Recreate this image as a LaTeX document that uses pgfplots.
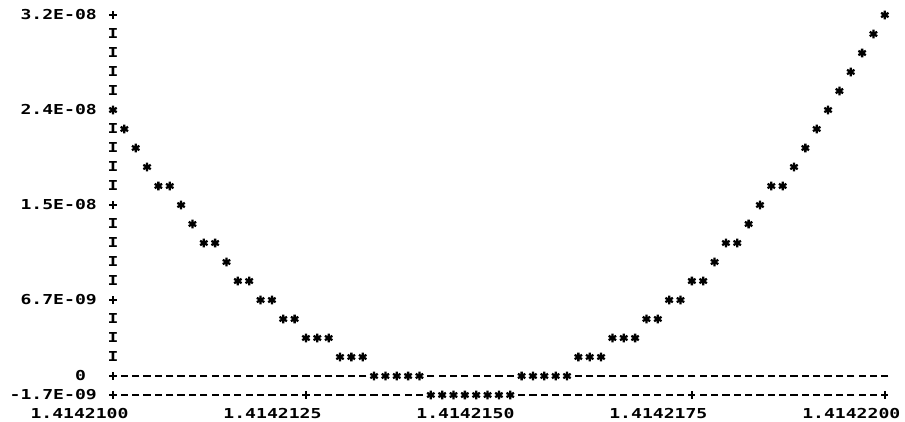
\documentclass[border=0pt]{standalone}
\usepackage{pgfplots}
\pgfplotsset{compat=1.18}
\usepackage{fontspec}
\newfontfamily\lp{DejaVu Sans Mono}[FakeStretch=1.32]
\newcommand{\lpf}{\lp\bfseries\fontsize{13.7}{14}\selectfont}
\begin{document}
\begin{tikzpicture}
\begin{axis}[
  scale only axis, width=771.8pt, height=380pt,
  xmin=0, xmax=68, ymin=0, ymax=20, clip=false,
  axis line style={draw=none}, major tick length=0pt,
  xtick={0,17,34,51,68},
  xticklabels={1.4142100,1.4142125,1.4142150,1.4142175,1.4142200},
  ytick={0,1,5,10,15,20},
  yticklabels={-1.7E-09,0\hphantom{0},6.7E-09,1.5E-08,2.4E-08,3.2E-08},
  ticklabel style={font=\lpf, inner sep=0pt},
  xticklabel style={anchor=center, yshift=-18.5pt, xshift=-33.5pt},
  yticklabel style={anchor=east, xshift=-16pt},
]
% y-axis 'I' characters
\addplot[only marks, mark=text, text mark={\lpf I}]
  coordinates {(0,19)(0,18)(0,17)(0,16)(0,14)(0,13)(0,12)(0,11)(0,9)(0,8)(0,7)(0,6)(0,4)(0,3)(0,2)};
% '+' characters
\addplot[only marks, mark=+, mark size=3.6pt, mark options={line width=1.8pt}]
  coordinates {(0,20)(0,10)(0,5)(0,1)(0,0)(17,0)(51,0)(68,0)};
% '-' characters, zero row (level 1)
\addplot[only marks, mark=-, mark size=3.6pt, mark options={line width=1.7pt}]
  coordinates {(1,1)(2,1)(3,1)(4,1)(5,1)(6,1)(7,1)(8,1)(9,1)(10,1)(11,1)(12,1)(13,1)(14,1)(15,1)(16,1)(17,1)(18,1)(19,1)(20,1)(21,1)(22,1)
  (28,1)(29,1)(30,1)(31,1)(32,1)(33,1)(34,1)(35,1)
  (41,1)(42,1)(43,1)(44,1)(45,1)(46,1)(47,1)(48,1)(49,1)(50,1)(51,1)(52,1)(53,1)(54,1)(55,1)(56,1)(57,1)(58,1)(59,1)(60,1)(61,1)(62,1)(63,1)(64,1)(65,1)(66,1)(67,1)(68,1)};
% '-' characters, bottom row (level 0)
\addplot[only marks, mark=-, mark size=3.6pt, mark options={line width=1.7pt}]
  coordinates {(1,0)(2,0)(3,0)(4,0)(5,0)(6,0)(7,0)(8,0)(9,0)(10,0)(11,0)(12,0)(13,0)(14,0)(15,0)(16,0)(18,0)(19,0)(20,0)(21,0)(22,0)(23,0)(24,0)(25,0)(26,0)(27,0)
  (36,0)(37,0)(38,0)(39,0)(40,0)(41,0)(42,0)(43,0)(44,0)(45,0)(46,0)(47,0)(48,0)(49,0)(50,0)(52,0)(53,0)(54,0)(55,0)(56,0)(57,0)(58,0)(59,0)(60,0)(61,0)(62,0)(63,0)(64,0)(65,0)(66,0)(67,0)};
% data points '*'
\addplot[only marks, mark=asterisk, mark size=4.3pt, mark options={line width=2.3pt}]
  coordinates {(0,15)(1,14)(2,13)(3,12)(4,11)(5,11)(6,10)(7,9)(8,8)(9,8)(10,7)(11,6)(12,6)(13,5)(14,5)(15,4)(16,4)(17,3)(18,3)(19,3)(20,2)(21,2)(22,2)
  (23,1)(24,1)(25,1)(26,1)(27,1)
  (28,0)(29,0)(30,0)(31,0)(32,0)(33,0)(34,0)(35,0)
  (36,1)(37,1)(38,1)(39,1)(40,1)
  (41,2)(42,2)(43,2)(44,3)(45,3)(46,3)(47,4)(48,4)(49,5)(50,5)(51,6)(52,6)(53,7)(54,8)(55,8)(56,9)(57,10)(58,11)(59,11)
  (60,12)(61,13)(62,14)(63,15)(64,16)(65,17)(66,18)(67,19)(68,20)};
\end{axis}
\pgfresetboundingbox
\path ([shift={(-113pt,-26pt)}]current axis.south west) rectangle ++(905pt,421pt);
\end{tikzpicture}
\end{document}
